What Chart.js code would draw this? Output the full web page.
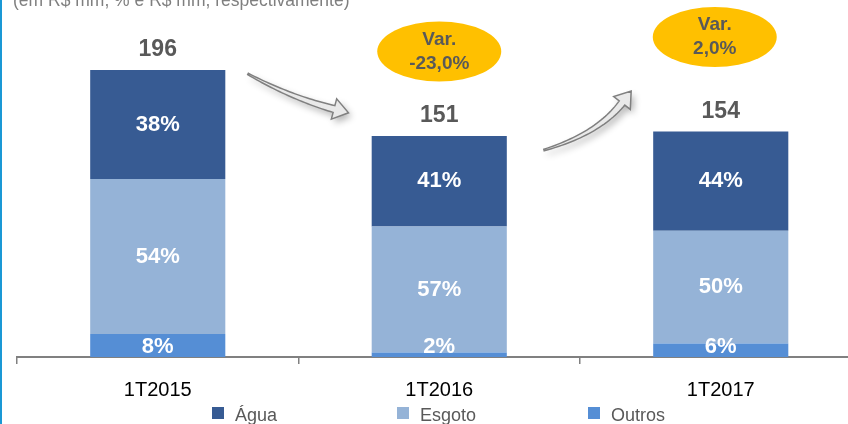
<!DOCTYPE html>
<html>
<head>
<meta charset="utf-8">
<script src="https://cdn.jsdelivr.net/npm/chart.js@4.4.1/dist/chart.umd.min.js"></script>
<style>
    html, body { margin: 0; padding: 0; background: #fff; }
    #box { width: 848px; height: 424px; overflow: hidden; position: relative; }
    #grafico { position: absolute; left: 0; top: 0; }
</style>
</head>
<body>
<div id="box"><canvas id="grafico" width="880" height="424"></canvas></div>
<script>
// dados (R$ mm)
const periodos = ['1T2015', '1T2016', '1T2017'];
const totais = [196, 151, 154];
const agua = [74.5, 61.9, 67.8];
const esgoto = [105.8, 86.1, 77.0];
const outros = [15.7, 3.0, 9.2];
const pctAgua = ['38%', '41%', '44%'];
const pctEsgoto = ['54%', '57%', '50%'];
const pctOutros = ['8%', '2%', '6%'];
const variacoes = [null, ['Var.', '-23,0%'], ['Var.', '2,0%']];
const titulo = '(em R$ mm, % e R$ mm, respectivamente)';

const cores = { agua: '#375B93', esgoto: '#95B3D7', outros: '#558ED5' };
const fonte = '"Liberation Sans", Arial, sans-serif';

function seta(ctx, p0, c, p1, w0, w1, cabecaL, cabecaC) {
    const pts = [];
    const n = 30;
    for (let i = 0; i <= n; i++) {
        const t = i / n;
        const x = (1 - t) * (1 - t) * p0[0] + 2 * (1 - t) * t * c[0] + t * t * p1[0];
        const y = (1 - t) * (1 - t) * p0[1] + 2 * (1 - t) * t * c[1] + t * t * p1[1];
        const dx = 2 * (1 - t) * (c[0] - p0[0]) + 2 * t * (p1[0] - c[0]);
        const dy = 2 * (1 - t) * (c[1] - p0[1]) + 2 * t * (p1[1] - c[1]);
        const len = Math.hypot(dx, dy);
        pts.push({ x, y, nx: -dy / len, ny: dx / len, dx: dx / len, dy: dy / len, w: w0 + (w1 - w0) * t });
    }
    const fim = pts[n];
    ctx.beginPath();
    pts.forEach((p, i) => {
        const x = p.x + p.nx * p.w / 2, y = p.y + p.ny * p.w / 2;
        if (i === 0) ctx.moveTo(x, y); else ctx.lineTo(x, y);
    });
    ctx.lineTo(fim.x + fim.nx * cabecaL / 2, fim.y + fim.ny * cabecaL / 2);
    ctx.lineTo(fim.x + fim.dx * cabecaC, fim.y + fim.dy * cabecaC);
    ctx.lineTo(fim.x - fim.nx * cabecaL / 2, fim.y - fim.ny * cabecaL / 2);
    for (let i = n; i >= 0; i--) {
        const p = pts[i];
        ctx.lineTo(p.x - p.nx * p.w / 2, p.y - p.ny * p.w / 2);
    }
    ctx.closePath();
    ctx.save();
    ctx.shadowColor = 'rgba(0,0,0,0.3)';
    ctx.shadowBlur = 7;
    ctx.shadowOffsetX = 3;
    ctx.shadowOffsetY = 4;
    ctx.fillStyle = '#e9e9e9';
    ctx.fill();
    ctx.restore();
    ctx.strokeStyle = '#808080';
    ctx.lineWidth = 1.5;
    ctx.stroke();
}

// ordem de empilhamento: Outros embaixo, Água em cima
const rotulos = {
    id: 'rotulos',
    afterDatasetsDraw(chart) {
        const ctx = chart.ctx;
        const pcts = [pctOutros, pctEsgoto, pctAgua];
        ctx.save();
        ctx.textAlign = 'center';
        ctx.textBaseline = 'middle';
        ctx.fillStyle = '#fff';
        ctx.font = 'bold 22px ' + fonte;
        chart.data.datasets.forEach((ds, d) => {
            chart.getDatasetMeta(d).data.forEach((bar, i) => {
                const y = d === 0 ? bar.base - 10 : (bar.y + bar.base) / 2;
                ctx.fillText(pcts[d][i], bar.x, y);
            });
        });
        // totais
        ctx.fillStyle = '#595959';
        ctx.font = 'bold 23px ' + fonte;
        chart.getDatasetMeta(2).data.forEach((bar, i) => {
            ctx.fillText(String(totais[i]), bar.x, bar.y - 20);
        });
        ctx.restore();
    },
    afterDraw(chart) {
        const ctx = chart.ctx;
        const xs = chart.scales.x;
        ctx.save();
        // borda azul
        ctx.fillStyle = '#1a98d5';
        ctx.fillRect(0, 0, 2, 424);
        // título cortado
        ctx.fillStyle = '#7f7f7f';
        ctx.font = '17.5px ' + fonte;
        ctx.textBaseline = 'alphabetic';
        ctx.fillText(titulo, 13, 6);
        // setas
        seta(ctx, [248, 74], [292, 98], [334, 109], 1.5, 7, 21, 15);
        seta(ctx, [544, 150], [598, 134], [622, 103], 1.5, 7, 21, 15);
        // ovais de variação
        const offs = [0, 0, -6];
        const ovalY = [0, 51.5, 37];
        variacoes.forEach((v, i) => {
            if (!v) return;
            const cx = xs.getPixelForValue(i) + offs[i];
            ctx.fillStyle = '#FFC000';
            ctx.beginPath();
            ctx.ellipse(cx, ovalY[i], 62, 30, 0, 0, Math.PI * 2);
            ctx.fill();
            ctx.fillStyle = '#595959';
            ctx.font = 'bold 19px ' + fonte;
            ctx.textAlign = 'center';
            ctx.textBaseline = 'middle';
            ctx.fillText(v[0], cx, ovalY[i] - 12);
            ctx.fillText(v[1], cx, ovalY[i] + 12);
        });
        // legenda (Água, Esgoto, Outros)
        const legX = [212, 397, 588];
        const ordem = [2, 1, 0];
        ctx.font = '18px ' + fonte;
        ctx.textAlign = 'left';
        ctx.textBaseline = 'middle';
        ordem.forEach((d, k) => {
            const ds = chart.data.datasets[d];
            ctx.fillStyle = ds.backgroundColor;
            ctx.fillRect(legX[k], 407, 12, 12);
            ctx.fillStyle = '#595959';
            ctx.fillText(ds.label, legX[k] + 23, 416);
        });
        ctx.restore();
    }
};

const config = {
    type: 'bar',
    data: {
        labels: periodos,
        datasets: [
            { label: 'Outros', data: outros, backgroundColor: cores.outros },
            { label: 'Esgoto', data: esgoto, backgroundColor: cores.esgoto },
            { label: 'Água', data: agua, backgroundColor: cores.agua }
        ]
    },
    options: {
        responsive: false,
        animation: false,
        categoryPercentage: 0.96,
        barPercentage: 0.5,
        layout: { padding: { left: 17, right: 18.5, top: 10, bottom: 8 } },
        plugins: { legend: { display: false }, tooltip: { enabled: false } },
        scales: {
            x: {
                stacked: true,
                grid: { offset: true, drawOnChartArea: false, tickLength: 7, color: '#808080', lineWidth: 1.5 },
                border: { color: '#808080', width: 2 },
                ticks: { color: '#000', font: { family: fonte, size: 20 }, padding: 14 }
            },
            y: { stacked: true, display: false, min: 0, max: 237 }
        }
    },
    plugins: [rotulos]
};

const grafico = new Chart(document.getElementById('grafico'), config);
</script>
</body>
</html>
